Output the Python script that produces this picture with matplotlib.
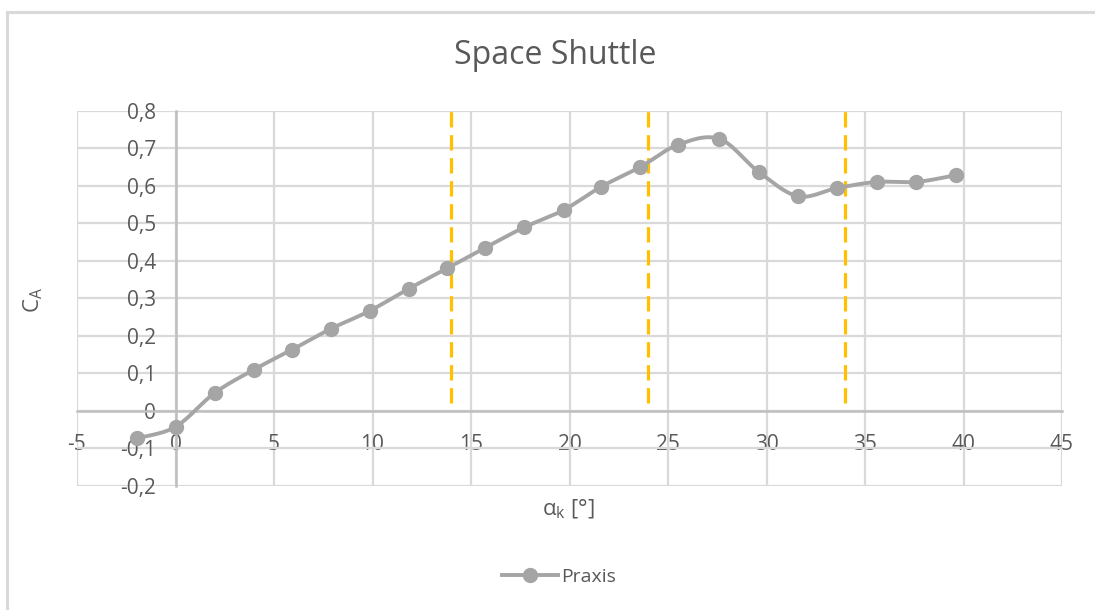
import numpy as np
import matplotlib
matplotlib.use("Agg")
import matplotlib.pyplot as plt
from matplotlib.patches import Rectangle
from matplotlib.lines import Line2D

plt.rcParams['font.family'] = ['Open Sans', 'DejaVu Sans']

# Measured axial force coefficient over angle of attack
alpha = [-1.93, 0.0, 1.98, 3.96, 5.89, 7.87, 9.85, 11.83, 13.8, 15.7, 17.7,
         19.7, 21.6, 23.6, 25.5, 27.6, 29.6, 31.6, 33.6, 35.6, 37.6, 39.6]
c_a = [-0.073, -0.043, 0.047, 0.109, 0.162, 0.218, 0.266, 0.325, 0.380, 0.434,
       0.489, 0.535, 0.597, 0.650, 0.709, 0.725, 0.637, 0.572, 0.594, 0.610,
       0.610, 0.628]
series_name = "Praxis"

# Reference angles marked with vertical dashed lines
ref_alpha = [14, 24, 34]

x_ticks = [-5, 0, 5, 10, 15, 20, 25, 30, 35, 40, 45]
y_ticks = [-0.2, -0.1, 0.0, 0.1, 0.2, 0.3, 0.4, 0.5, 0.6, 0.7, 0.8]

TEXT = '#595959'
GRID = '#D9D9D9'
AXIS = '#BFBFBF'
SERIES = '#A5A5A5'
GOLD = '#FFC000'


def smooth_curve(xs, ys, n=30):
    """Bezier smoothing through every point, Excel style."""
    p = np.column_stack([xs, ys]).astype(float)
    out = [p[0]]
    for i in range(len(p) - 1):
        p0 = p[i - 1] if i > 0 else p[i]
        p1, p2 = p[i], p[i + 1]
        p3 = p[i + 2] if i + 2 < len(p) else p[i + 1]
        c1 = p1 + (p2 - p0) / 6.0
        c2 = p2 - (p3 - p1) / 6.0
        t = np.linspace(0, 1, n)[1:, None]
        seg = ((1 - t) ** 3) * p1 + 3 * ((1 - t) ** 2) * t * c1 \
            + 3 * (1 - t) * t ** 2 * c2 + t ** 3 * p2
        out.extend(seg)
    out = np.array(out)
    return out[:, 0], out[:, 1]


fig = plt.figure(figsize=(10.95, 6.10), dpi=100)
fig.patch.set_facecolor('white')

# outer chart frame
fig.patches.append(Rectangle((6.5 / 1095, -0.05), 1.2, 1 - 12 / 610 + 0.05,
                             transform=fig.transFigure, fill=False,
                             edgecolor='#D9D9D9', linewidth=2.2, zorder=0))

ax = fig.add_axes([77 / 1095, 1 - 485.7 / 610, (1062 - 77) / 1095,
                   (485.7 - 110.7) / 610])
ax.set_xlim(-5, 45)
ax.set_ylim(-0.2, 0.8)
ax.set_xticks(x_ticks)
ax.set_yticks(y_ticks)
ax.grid(True, color=GRID, linewidth=1.6, zorder=0)
ax.set_axisbelow(True)

for side in ('top', 'right'):
    ax.spines[side].set_visible(False)
ax.spines['left'].set_position(('data', 0))
ax.spines['bottom'].set_position(('data', 0))
ax.spines['left'].set_color(AXIS)
ax.spines['bottom'].set_color(AXIS)
ax.spines['left'].set_linewidth(1.8)
ax.spines['bottom'].set_linewidth(1.8)

ax.xaxis.set_major_formatter(plt.FuncFormatter(lambda v, _: f"{v:g}"))
ax.yaxis.set_major_formatter(
    plt.FuncFormatter(lambda v, _: f"{v:.1f}".replace('.', ',') if abs(v) > 1e-9 else "0"))
ax.tick_params(axis='both', length=0, labelsize=15, labelcolor=TEXT)
ax.tick_params(axis='x', pad=17)
ax.tick_params(axis='y', pad=14)

for a in ref_alpha:
    ax.plot([a, a], [0.02, 0.8], color=GOLD, linewidth=2.3,
            linestyle=(0, (4.8, 2.4)), zorder=2, clip_on=False)

sx, sy = smooth_curve(alpha, c_a)
ax.plot(sx, sy, color=SERIES, linewidth=2.8, zorder=3, solid_capstyle='round')
ax.plot(alpha, c_a, linestyle='none', marker='o', markersize=10,
        color=SERIES, zorder=4, clip_on=False)

fig.text(555 / 1095, 1 - 56 / 610, "Space Shuttle", ha='center', va='center',
         fontsize=23, color=TEXT)
fig.text(33 / 1095, 1 - 300 / 610, r"C$_\mathregular{A}$", ha='center',
         va='center', rotation=90, fontsize=16, color=TEXT)
fig.text(568 / 1095, 1 - 509 / 610, r"α$_\mathregular{k}$ [°]", ha='center',
         va='center', fontsize=16, color=TEXT)

handle = Line2D([], [], color=SERIES, linewidth=2.8, marker='o',
                markersize=10)
fig.legend([handle], [series_name], loc='center',
           bbox_to_anchor=(559 / 1095, 1 - 577 / 610), frameon=False,
           fontsize=14, labelcolor=TEXT, handlelength=2.9, handletextpad=0.15)

fig.savefig('out.png', dpi=100, facecolor='white')
